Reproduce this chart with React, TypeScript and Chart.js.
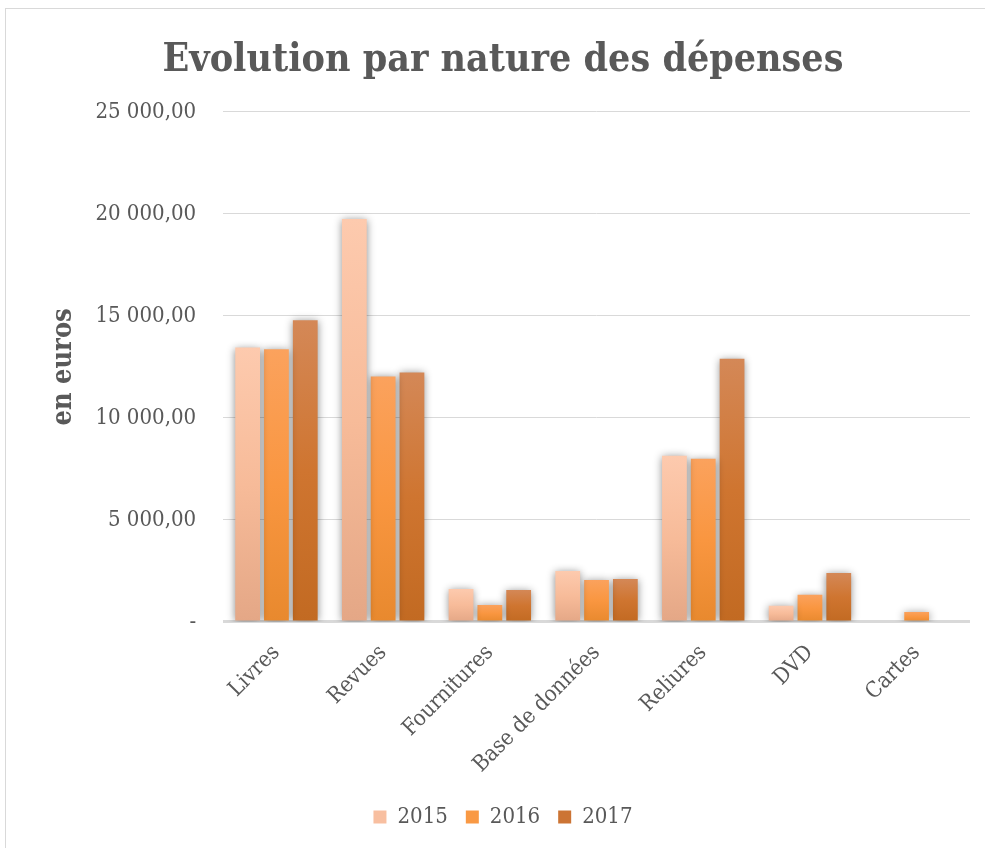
import React, { useEffect, useRef } from "react";
import { Chart, registerables } from "chart.js";

Chart.register(...registerables);

const categories = ["Livres", "Revues", "Fournitures", "Base de données", "Reliures", "DVD", "Cartes"];
const seriesNames = ["2015", "2016", "2017"];
const values2015 = [13450, 19750, 1620, 2500, 8150, 790, 0];
const values2016 = [13360, 12030, 835, 2060, 8000, 1330, 490];
const values2017 = [14780, 12230, 1570, 2110, 12900, 2400, 0];
const yTicks = [0, 5000, 10000, 15000, 20000, 25000];

const gradientStops: string[][] = [
  ["#fdcaae", "#f7bb99", "#e4a786"],
  ["#fba25d", "#f99640", "#e8892e"],
  ["#d48857", "#cf7530", "#c26a22"],
];
const legendColors = ["#f8bfa0", "#f99944", "#cc7434"];

const FONT = "'DejaVu Serif Condensed', 'DejaVu Serif', serif";

function fmt(v: number): string {
  if (v === 0) return "-";
  const s = Math.round(v).toString();
  const parts: string[] = [];
  for (let i = s.length; i > 0; i -= 3) parts.unshift(s.slice(Math.max(0, i - 3), i));
  return parts.join(" ") + ",00";
}

export default function App() {
  const ref = useRef<HTMLCanvasElement | null>(null);
  useEffect(() => {
    document.body.style.margin = "0";
    const canvas = ref.current!;
    const all = [values2015, values2016, values2017];
    const shadowPlugin = {
      id: "shadowBars",
      beforeDatasetsDraw(chart: any) {
        const c = chart.ctx;
        c.save();
        c.shadowColor = "rgba(0,0,0,0.45)";
        c.shadowBlur = 8;
        c.shadowOffsetX = 0;
        c.shadowOffsetY = 1;
      },
      afterDatasetsDraw(chart: any) {
        chart.ctx.restore();
      },
    };
    const borderPlugin = {
      id: "outerBorder",
      beforeDraw(chart: any) {
        const c = chart.ctx;
        c.save();
        c.fillStyle = "#ffffff";
        c.fillRect(0, 0, chart.width, chart.height);
        c.strokeStyle = "#d9d9d9";
        c.lineWidth = 1;
        c.strokeRect(5.5, 8.5, chart.width, chart.height);
        c.restore();
      },
    };
    const chart = new Chart(canvas, {
      type: "bar",
      data: {
        labels: categories,
        datasets: all.map((vals, i) => ({
          label: seriesNames[i],
          data: vals,
          backgroundColor: (ctx: any) => {
            const ch = ctx.chart;
            const ys = ch.scales && ch.scales.y;
            if (!ys || ctx.type !== "data") return legendColors[i];
            const v = ctx.raw as number;
            const top = ys.getPixelForValue(v);
            const base = ys.getPixelForValue(0);
            if (!isFinite(top) || !isFinite(base) || Math.abs(base - top) < 1) return legendColors[i];
            const g = ch.ctx.createLinearGradient(0, top, 0, base);
            g.addColorStop(0, gradientStops[i][0]);
            g.addColorStop(0.5, gradientStops[i][1]);
            g.addColorStop(1, gradientStops[i][2]);
            return g;
          },
          borderWidth: 0,
          categoryPercentage: 0.81,
          barPercentage: 0.86,
        })),
      },
      options: {
        responsive: false,
        animation: false,
        devicePixelRatio: 1,
        layout: { padding: { left: 36, right: 15, top: 22, bottom: 10 } },
        plugins: {
          title: {
            display: true,
            text: "Evolution par nature des dépenses",
            color: "#595959",
            font: { family: FONT, size: 39, weight: "bold" },
            padding: { top: 15, bottom: 28 },
          },
          legend: {
            position: "bottom",
            labels: {
              color: "#595959",
              font: { family: FONT, size: 22 },
              boxWidth: 13,
              boxHeight: 13,
              padding: 18,
              generateLabels: () =>
                seriesNames.map((n, i) => ({
                  text: n,
                  fillStyle: legendColors[i],
                  strokeStyle: legendColors[i],
                  lineWidth: 0,
                  datasetIndex: i,
                  hidden: false,
                  fontColor: "#595959",
                })),
            },
          },
          tooltip: { enabled: false },
        },
        scales: {
          x: {
            grid: { display: false },
            border: { display: false },
            ticks: {
              color: "#595959",
              font: { family: FONT, size: 22 },
              maxRotation: 45,
              minRotation: 45,
              padding: 10,
            },
          },
          y: {
            min: 0,
            max: 25000,
            afterBuildTicks: (axis: any) => {
              axis.ticks = yTicks.map((v) => ({ value: v }));
            },
            grid: {
              color: "#d9d9d9",
              lineWidth: (ctx: any) => (ctx.tick && ctx.tick.value === 0 ? 3 : 1),
              drawTicks: false,
            },
            border: { display: false },
            ticks: {
              color: "#595959",
              font: { family: FONT, size: 22 },
              padding: 27,
              callback: (v: any) => fmt(Number(v)),
            },
            title: {
              display: true,
              text: "en euros",
              color: "#595959",
              font: { family: FONT, size: 27, weight: "bold" },
              padding: { top: 12, bottom: -12 },
            },
          },
        },
      },
      plugins: [borderPlugin, shadowPlugin],
    });
    return () => chart.destroy();
  }, []);
  return (
    <div style={{ width: 985, height: 848 }}>
      <canvas ref={ref} width={985} height={848} style={{ display: "block" }} />
    </div>
  );
}
